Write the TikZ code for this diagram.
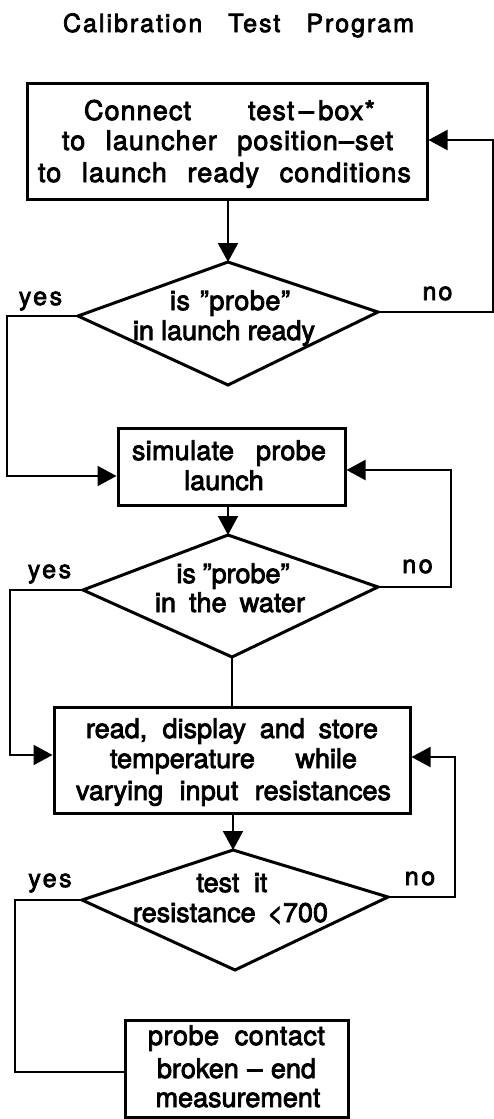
\documentclass[tikz,border=0pt]{standalone}
\usepackage{fontspec}
\setmainfont{TeX Gyre Heros}
\usetikzlibrary{arrows.meta}
\newcommand{\SL}[3][0]{\makebox[#2][s]{\addfontfeatures{LetterSpace=#1}#3}}
\newcommand{\LS}[2]{{\addfontfeatures{LetterSpace=#1}#2}}
\begin{document}
\begin{tikzpicture}[x=1pt,y=-1pt,
  box/.style={draw,line width=3pt,rectangle,inner sep=0pt},
  txt/.style={anchor=base,inner sep=0pt,font=\fontsize{27}{31}\selectfont\addfontfeatures{FakeBold=3}},
  dtxt/.style={txt,font=\fontsize{27}{31}\selectfont\addfontfeatures{FakeBold=3}},
  lab/.style={txt,font=\fontsize{25}{28}\selectfont\addfontfeatures{FakeBold=3}},
  conn/.style={line width=2pt},
  arr/.style={conn,-{Triangle[length=19pt,width=20pt]}},
  dia/.style={line width=3pt,line join=miter}]
\fill[white] (0,0) rectangle (494,1119);
\useasboundingbox (0,0) rectangle (494,1119);
% title
\node[lab] (title) at (238.5,32) {\SL[8]{351pt}{Calibration Test Program}};
% boxes
\node[box,minimum width=400pt,minimum height=116pt] (b1) at (227,141) {};
\node[box,minimum width=227pt,minimum height=77pt] (b2) at (231.5,466.5) {};
\node[box,minimum width=356pt,minimum height=106pt] (b3) at (232,760) {};
\node[box,minimum width=223pt,minimum height=97pt] (b4) at (236.5,1068.5) {};
% diamonds
\coordinate (d1t) at (228,262); \coordinate (d1r) at (378,312);
\coordinate (d1b) at (228,385); \coordinate (d1l) at (78,316);
\coordinate (d2t) at (228,535); \coordinate (d2r) at (378,587);
\coordinate (d2b) at (232,657); \coordinate (d2l) at (83,590);
\coordinate (d3t) at (233,850); \coordinate (d3r) at (388,897);
\coordinate (d3b) at (235,970); \coordinate (d3l) at (82,900);
\draw[dia] (d1t) -- (d1r) -- (d1b) -- (d1l) -- cycle;
\draw[dia] (d2t) -- (d2r) -- (d2b) -- (d2l) -- cycle;
\draw[dia] (d3t) -- (d3r) -- (d3b) -- (d3l) -- cycle;
% box texts
\node[txt] (b1x) at (229.5,120) {\SL[4]{291pt}{Connect test\,–\,box*}};
\node[txt] (b1y) at (227.5,150) {\SL[4]{331pt}{to launcher position–set}};
\node[txt] (b1z) at (224.5,182) {\SL[4]{373pt}{to launch ready conditions}};
\node[txt] (b2x) at (229,460) {\SL[1]{194pt}{simulate probe}};
\node[txt] (b2y) at (224,490) {launch};
\node[txt] (b3x) at (232,738) {\SL{292pt}{read, display and store}};
\node[txt] (b3y) at (233.5,768) {\SL{247pt}{temperature while}};
\node[txt] (b3z) at (233.5,800) {\SL{315pt}{varying input resistances}};
\node[txt] (b4x) at (236.5,1045) {\SL[2]{177pt}{probe contact}};
\node[txt] (b4y) at (236.5,1078) {\SL{159pt}{broken – end}};
\node[txt] (b4z) at (238,1107) {measurement};
% diamond texts
\node[dtxt] (d1x) at (230,310) {\SL[2]{120pt}{is ”probe”}};
\node[dtxt] (d1y) at (224,340) {\SL{182pt}{in launch ready}};
\node[dtxt] (d2x) at (233,583) {\SL{113pt}{is ”probe”}};
\node[dtxt] (d2y) at (230,612) {\SL{150pt}{in the water}};
\node[dtxt] (d3x) at (232,892) {\SL{71pt}{test it}};
\node[dtxt] (d3y) at (230.5,922) {\SL{195pt}{resistance <700}};
% labels
\node[lab] (y1) at (40.5,305) {\LS{10}{yes}};
\node[lab] (n1) at (437.5,300) {\LS{8}{no}};
\node[lab] (y2) at (49.5,578) {\LS{10}{yes}};
\node[lab] (n2) at (417.5,573) {\LS{10}{no}};
\node[lab] (y3) at (50,887) {\LS{10}{yes}};
\node[lab] (n3) at (420,885) {\LS{10}{no}};
% connectors
\draw[arr] (b1.south -| d1t) -- (d1t);
\draw[arr] (d1r) -- ++(115,0) |- ([yshift=1pt]b1.east);
\draw[arr] (d1l) -- ++(-71,0) |- ([yshift=-9.5pt]b2.west);
\draw[arr] (b2.south -| d2t) -- (d2t);
\draw[arr] (d2r) -- ++(73,0) |- ([yshift=-3.5pt]b2.east);
\draw[arr] (d2l) -- ++(-73,0) |- ([yshift=5pt]b3.west);
\draw[conn] (d2b) -- (d2b |- b3.north);
\draw[arr] (b3.south -| d3t) -- (d3t);
\draw[arr] (d3r) -- ++(67,0) |- ([yshift=3pt]b3.east);
\draw[conn] (d3l) -- ++(-67,0) |- ([yshift=-3.5pt]b4.west);
\end{tikzpicture}
\end{document}
